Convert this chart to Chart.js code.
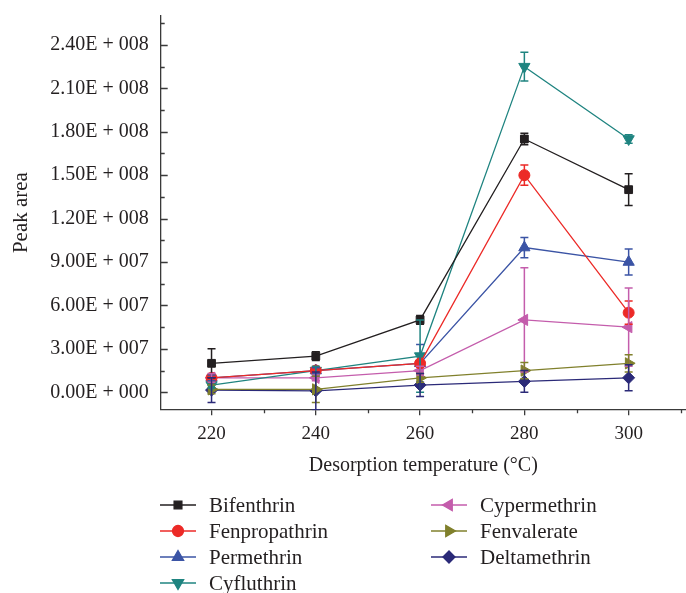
<!DOCTYPE html>
<html>
<head>
<meta charset="utf-8">
<script src="https://cdn.jsdelivr.net/npm/chart.js@4/dist/chart.umd.min.js"></script>
<style>
  html, body { margin: 0; padding: 0; background: #fff; }
  #wrap { width: 686px; height: 593px; }
</style>
</head>
<body>
<div id="wrap"><canvas id="peak-chart" width="686" height="593"></canvas></div>
<script>
const temps = [220, 240, 260, 280, 300];

const bifenthrin    = [2.0e7, 2.5e7, 5.0e7, 1.75e8, 1.40e8];
const fenpropathrin = [1.0e7, 1.5e7, 2.0e7, 1.50e8, 5.5e7];
const permethrin    = [1.0e7, 1.5e7, 2.0e7, 1.00e8, 9.0e7];
const cyfluthrin    = [5.0e6, 1.5e7, 2.5e7, 2.25e8, 1.75e8];
const cypermethrin  = [1.0e7, 1.0e7, 1.5e7, 5.0e7, 4.5e7];
const fenvalerate   = [2.0e6, 2.0e6, 1.0e7, 1.5e7, 2.0e7];
const deltamethrin  = [1.5e6, 1.0e6, 5.0e6, 7.5e6, 1.0e7];

const bifenthrinErr    = [1.0e7, 3.0e6, 3.0e6, 4.0e6, 1.1e7];
const fenpropathrinErr = [2.0e6, 2.0e6, 2.0e6, 7.0e6, 8.0e6];
const permethrinErr    = [2.0e6, 2.0e6, 1.3e7, 7.0e6, 9.0e6];
const cyfluthrinErr    = [2.0e6, 3.0e6, 2.5e7, 1.0e7, 3.0e6];
const cypermethrinErr  = [3.0e6, 2.0e6, 3.0e6, 3.6e7, 2.7e7];
const fenvalerateErr   = [3.0e6, 9.0e6, 3.0e6, 5.6e6, 6.0e6];
const deltamethrinErr  = [8.5e6, 1.3e7, 8.0e6, 7.5e6, 9.0e6];

const yTickValues = [0, 3e7, 6e7, 9e7, 1.2e8, 1.5e8, 1.8e8, 2.1e8, 2.4e8];
const xTickValues = [220, 240, 260, 280, 300];

const serif = '"Liberation Serif", "DejaVu Serif", serif';
const axisColor = '#3a3a3a';

function series(label, values, errs, color, style, rotation, radius) {
  return {
    label: label,
    data: temps.map((t, i) => ({x: t, y: values[i]})),
    errors: errs,
    borderColor: color,
    backgroundColor: color,
    borderWidth: 1.3,
    pointStyle: style,
    rotation: rotation,
    pointRadius: radius,
    pointBorderWidth: 1,
    pointHoverRadius: radius,
    tension: 0
  };
}

const datasets = [
  series('Bifenthrin', bifenthrin, bifenthrinErr, '#231f20', 'rect', 0, 5.5),
  series('Fenpropathrin', fenpropathrin, fenpropathrinErr, '#ec2a27', 'circle', 0, 5.5),
  series('Permethrin', permethrin, permethrinErr, '#3b54a5', 'triangle', 0, 6.5),
  series('Cyfluthrin', cyfluthrin, cyfluthrinErr, '#1f8480', 'triangle', 180, 6.5),
  series('Cypermethrin', cypermethrin, cypermethrinErr, '#c45dac', 'triangle', -90, 6.5),
  series('Fenvalerate', fenvalerate, fenvalerateErr, '#80802c', 'triangle', 90, 6.5),
  series('Deltamethrin', deltamethrin, deltamethrinErr, '#2b2a78', 'rectRot', 0, 6)
];

// error bars
const errorBars = {
  id: 'errorBars',
  afterDatasetsDraw(chart) {
    const ctx = chart.ctx;
    const y = chart.scales.y, x = chart.scales.x;
    const area = chart.chartArea;
    ctx.save();
    ctx.beginPath();
    ctx.rect(area.left, area.top, area.right - area.left, area.bottom - area.top + 1);
    ctx.clip();
    chart.data.datasets.forEach(ds => {
      ctx.strokeStyle = ds.borderColor;
      ctx.lineWidth = 1.5;
      ds.data.forEach((p, i) => {
        const e = ds.errors[i];
        const px = x.getPixelForValue(p.x);
        const top = y.getPixelForValue(p.y + e);
        const bot = y.getPixelForValue(p.y - e);
        ctx.beginPath();
        ctx.moveTo(px, top); ctx.lineTo(px, bot);
        ctx.moveTo(px - 4, top); ctx.lineTo(px + 4, top);
        ctx.moveTo(px - 4, bot); ctx.lineTo(px + 4, bot);
        ctx.stroke();
      });
    });
    ctx.restore();
  }
};

// inward y ticks (major + minor) and minor x ticks
const axisTicks = {
  id: 'axisTicks',
  afterDraw(chart) {
    const ctx = chart.ctx;
    const y = chart.scales.y, x = chart.scales.x;
    const area = chart.chartArea;
    ctx.save();
    ctx.strokeStyle = axisColor;
    ctx.lineWidth = 1.3;
    ctx.beginPath();
    for (let v = 0; v <= 2.55e8; v += 1.5e7) {
      const py = Math.round(y.getPixelForValue(v)) + 0.5;
      const major = yTickValues.includes(v);
      ctx.moveTo(area.left, py);
      ctx.lineTo(area.left + (major ? 7 : 4), py);
    }
    for (let t = 230; t <= 310; t += 20) {
      const px = Math.round(x.getPixelForValue(t)) + 0.5;
      ctx.moveTo(px, area.bottom);
      ctx.lineTo(px, area.bottom + 4);
    }
    ctx.stroke();
    ctx.restore();
  }
};

// two-column legend below the axes
const columnLegend = {
  id: 'columnLegend',
  afterDraw(chart) {
    const ctx = chart.ctx;
    const cols = [
      {x: 160, items: [0, 1, 2, 3]},
      {x: 431, items: [4, 5, 6]}
    ];
    const rowY = [505, 531, 557, 583];
    ctx.save();
    ctx.font = '21px ' + serif;
    ctx.textBaseline = 'middle';
    cols.forEach(col => {
      col.items.forEach((di, r) => {
        const ds = chart.data.datasets[di];
        const yy = rowY[r];
        ctx.strokeStyle = ds.borderColor;
        ctx.fillStyle = ds.backgroundColor;
        ctx.lineWidth = 1.3;
        ctx.beginPath();
        ctx.moveTo(col.x, yy); ctx.lineTo(col.x + 36, yy);
        ctx.stroke();
        Chart.helpers.drawPoint(ctx, {
          pointStyle: ds.pointStyle,
          rotation: ds.rotation,
          radius: ds.pointRadius,
          borderWidth: 1
        }, col.x + 18, yy);
        ctx.fillStyle = '#231f20';
        ctx.fillText(ds.label, col.x + 49, yy + 1);
      });
    });
    ctx.restore();
  }
};

new Chart('peak-chart', {
  type: 'line',
  data: {datasets: datasets},
  plugins: [errorBars, axisTicks, columnLegend],
  options: {
    responsive: false,
    animation: false,
    layout: {autoPadding: false, padding: {left: 5, right: 0, top: 6, bottom: 111}},
    plugins: {
      legend: {display: false},
      tooltip: {enabled: false}
    },
    scales: {
      x: {
        type: 'linear',
        min: 210.25,
        max: 311,
        afterBuildTicks: axis => { axis.ticks = xTickValues.map(v => ({value: v})); },
        grid: {display: true, drawOnChartArea: false, drawTicks: true, tickLength: 6, color: axisColor, lineWidth: 1.3},
        border: {display: true, color: axisColor, width: 1.3},
        ticks: {color: '#231f20', font: {family: serif, size: 19}, padding: 7, maxRotation: 0},
        title: {display: true, text: 'Desorption temperature (°C)', color: '#231f20', font: {family: serif, size: 20}, padding: {top: 2}}
      },
      y: {
        type: 'linear',
        min: -1.17e7,
        max: 2.6e8,
        afterBuildTicks: axis => { axis.ticks = yTickValues.map(v => ({value: v})); },
        grid: {display: false},
        border: {display: true, color: axisColor, width: 1.3},
        ticks: {
          color: '#231f20',
          font: {family: serif, size: 20},
          padding: 4,
          callback: v => {
            const exp = v === 0 ? 0 : Math.floor(Math.log10(v) + 1e-9);
            const mant = v === 0 ? 0 : v / Math.pow(10, exp);
            return mant.toFixed(2) + 'E + ' + String(exp).padStart(3, '0');
          }
        },
        title: {display: true, text: 'Peak area', color: '#231f20', font: {family: serif, size: 21}, padding: {bottom: 12}}
      }
    }
  }
});
</script>
</body>
</html>
